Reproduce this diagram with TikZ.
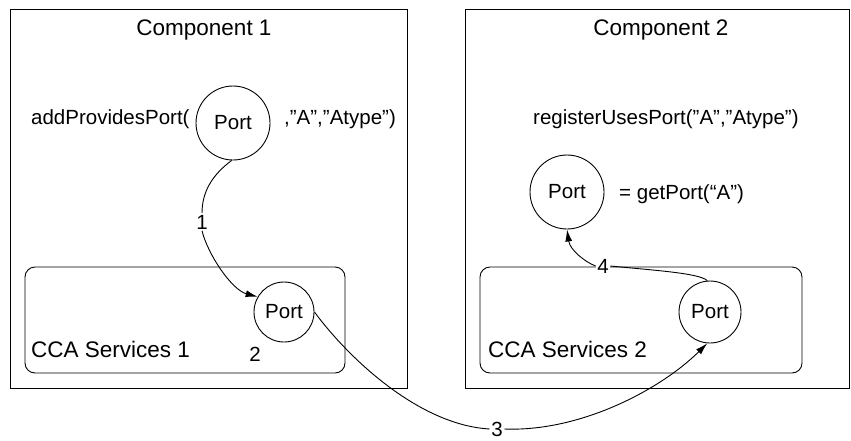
\documentclass[tikz,border=0pt]{standalone}
\usepackage{fontspec}
\setmainfont{Liberation Sans}
\usetikzlibrary{arrows.meta}
\begin{document}
\begin{tikzpicture}[x=1pt,y=-1pt,
  every node/.style={font=\fontsize{20.5}{24}\selectfont},
  bigtxt/.style={font=\fontsize{22.5}{26}\selectfont},
  thinline/.style={line width=0.9pt},
  compbox/.style={thinline,draw},
  svcbox/.style={thinline,draw,rounded corners=10pt},
  portc/.style={thinline,draw,circle,inner sep=0pt},
  txt/.style={anchor=base west,inner sep=0pt},
  steplabel/.style={fill=white,inner sep=1.5pt},
  conn/.style={thinline,-{Latex[length=12pt,width=7pt]}},
  plainconn/.style={thinline}]
\useasboundingbox (0,0) rectangle (851,440);

% component and services frames
\draw[compbox] (10,9) rectangle (407,388);
\draw[compbox] (465,9) rectangle (849,388);
\draw[svcbox] (25,267) rectangle (345,373);
\draw[svcbox] (480,267) rectangle (802,373);

\node[bigtxt] (c1) at (204,30) {Component 1};
\node[bigtxt] (c2) at (661,30) {Component 2};

% component 1 contents
\node[txt] (add) at (31,124) {addProvidesPort(};
\node[portc,minimum size=74pt] (p1) at (233,123) {Port};
\node[txt] (args1) at (284,124) {,”A”,”Atype”)};
\node[txt,bigtxt] (s1) at (31,357) {CCA Services 1};
\node[portc,minimum size=60pt] (p2) at (284,312) {Port};
\node (n2) at (255,354) {2};

% component 2 contents
\node[txt] (reg) at (533,124) {registerUsesPort(”A”,”Atype”)};
\node[portc,minimum size=74pt] (p4) at (567,192) {Port};
\node[txt] (get) at (619,199) {= getPort(“A”)};
\node[txt,bigtxt] (s2) at (488,357) {CCA Services 2};
\node[portc,minimum size=62pt] (p3) at (710,312) {Port};

% step labels
\node[steplabel] (l1) at (202,222) {1};
\node[steplabel,inner ysep=0.5pt] (l3) at (497,429) {3};
\node[steplabel] (l4) at (603,266) {4};

% step 1: provided port handed to services 1
\draw[plainconn] (p1.-92) .. controls (212,175) and (202,192) .. (l1.north);
\draw[conn] (l1.south) .. controls (208,255) and (232,290) .. (p2.150);

% step 3: services 1 to services 2
\draw[plainconn] (p2.east) .. controls (350,360) and (420,425) .. (l3.west);
\draw[conn] (l3.east) .. controls (580,432) and (660,390) .. (p3.-95);

% step 4: services 2 back to the uses port
\draw[plainconn] (p3.95) .. controls (700,273) and (650,270) .. (l4.east);
\draw[conn] (l4.west) .. controls (585,262) and (570,250) .. (p4.south);
\end{tikzpicture}
\end{document}
